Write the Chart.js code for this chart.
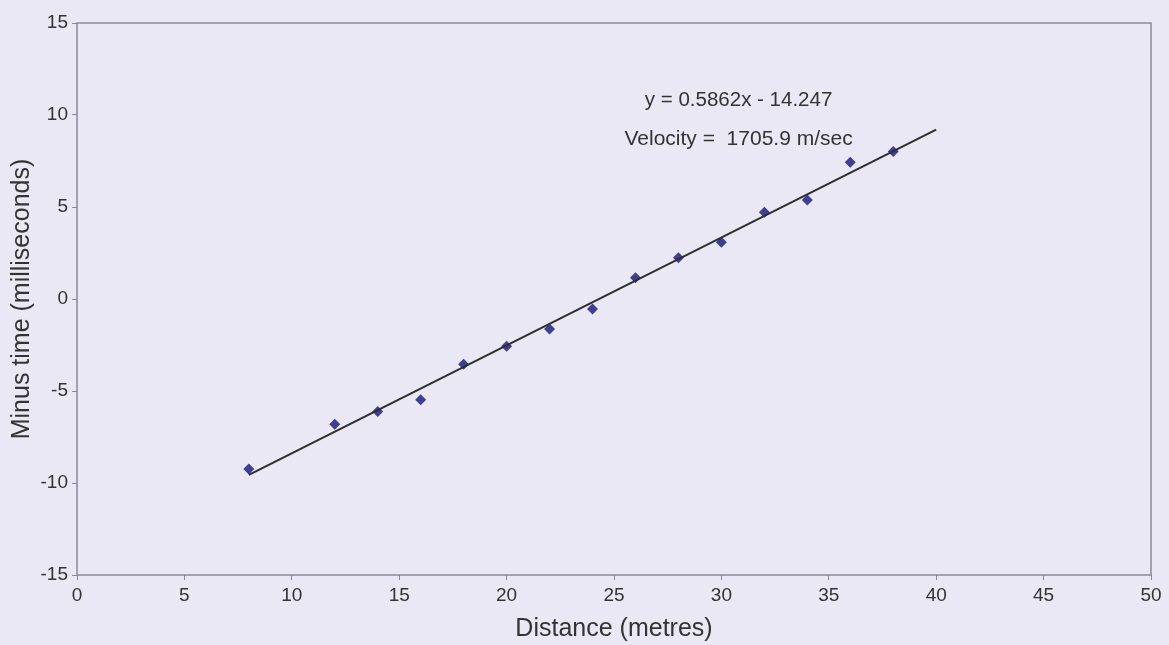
<!DOCTYPE html>
<html>
<head>
<meta charset="utf-8">
<script src="https://cdn.jsdelivr.net/npm/chart.js@4.4.1/dist/chart.umd.min.js"></script>
<style>
  html, body { margin: 0; padding: 0; background: #e9e8f4; }
  #wrap { width: 1169px; height: 645px; }
</style>
</head>
<body>
<div id="wrap"><canvas id="myChart" width="1169" height="645"></canvas></div>
<script>
// measured points
var distance = [8, 12, 14, 16, 18, 20, 22, 24, 26, 28, 30, 32, 34, 36, 38];
var minusTime = [-9.24, -6.81, -6.12, -5.47, -3.55, -2.57, -1.63, -0.55, 1.16, 2.24, 3.08, 4.71, 5.38, 7.43, 8.01];

// trend line end points
var trendX = [8, 40];
var trendY = [-9.56, 9.20];

var xTicks = [0, 5, 10, 15, 20, 25, 30, 35, 40, 45, 50];
var yTicks = [-15, -10, -5, 0, 5, 10, 15];

var equationText = "y = 0.5862x - 14.247";
var velocityText = "Velocity =  1705.9 m/sec";

var textColor = "#333333";
var frameColor = "#8a8a96";
var fontName = "'Liberation Sans', Arial, sans-serif";

// frame around plot + text labels
var framePlugin = {
  id: "frame",
  afterDraw: function (chart) {
    var ctx = chart.ctx;
    var a = chart.chartArea;
    ctx.save();
    ctx.strokeStyle = frameColor;
    ctx.lineWidth = 1.5;
    ctx.strokeRect(a.left, a.top, a.right - a.left, a.bottom - a.top);

    var xs = chart.scales.x;
    var ys = chart.scales.y;
    ctx.fillStyle = textColor;
    ctx.textAlign = "center";
    ctx.textBaseline = "middle";
    ctx.font = "20.5px " + fontName;
    ctx.fillText(equationText, xs.getPixelForValue(30.8), ys.getPixelForValue(10.8));
    ctx.font = "21px " + fontName;
    ctx.fillText(velocityText, xs.getPixelForValue(30.8), ys.getPixelForValue(8.7));
    ctx.restore();
  }
};

var scatterData = distance.map(function (d, i) { return { x: d, y: minusTime[i] }; });
var trendData = trendX.map(function (d, i) { return { x: d, y: trendY[i] }; });

new Chart(document.getElementById("myChart"), {
  type: "scatter",
  data: {
    datasets: [
      {
        label: "trend",
        data: trendData,
        showLine: true,
        borderColor: "#2e2e2e",
        borderWidth: 2,
        pointRadius: 0,
        fill: false
      },
      {
        label: "points",
        data: scatterData,
        pointStyle: "rectRot",
        pointRadius: 5.5,
        backgroundColor: "#3f3f92",
        borderColor: "#3f3f92",
        borderWidth: 0
      }
    ]
  },
  options: {
    responsive: false,
    animation: false,
    layout: { padding: { left: 0, top: 23, right: 18, bottom: 0 } },
    plugins: {
      legend: { display: false },
      tooltip: { enabled: false }
    },
    scales: {
      x: {
        type: "linear",
        min: 0,
        max: 50,
        afterBuildTicks: function (axis) {
          axis.ticks = xTicks.map(function (v) { return { value: v }; });
        },
        afterFit: function (axis) { axis.height = 70; },
        grid: { drawOnChartArea: false, tickLength: 5, color: frameColor },
        border: { display: false },
        ticks: {
          color: textColor,
          padding: 4,
          maxRotation: 0,
          font: { family: fontName, size: 19 }
        },
        title: {
          display: true,
          text: "Distance (metres)",
          color: textColor,
          padding: { top: 0, bottom: 3 },
          font: { family: fontName, size: 25, lineHeight: 1 }
        }
      },
      y: {
        type: "linear",
        min: -15,
        max: 15,
        afterBuildTicks: function (axis) {
          axis.ticks = yTicks.map(function (v) { return { value: v }; });
        },
        afterFit: function (axis) { axis.width = 77; },
        grid: { drawOnChartArea: false, tickLength: 5, color: frameColor },
        border: { display: false },
        ticks: {
          color: textColor,
          padding: 4,
          font: { family: fontName, size: 19 }
        },
        title: {
          display: true,
          text: "Minus time (milliseconds)",
          color: textColor,
          padding: { top: 10, bottom: 0 },
          font: { family: fontName, size: 25, lineHeight: 1 }
        }
      }
    }
  },
  plugins: [framePlugin]
});
</script>
</body>
</html>
